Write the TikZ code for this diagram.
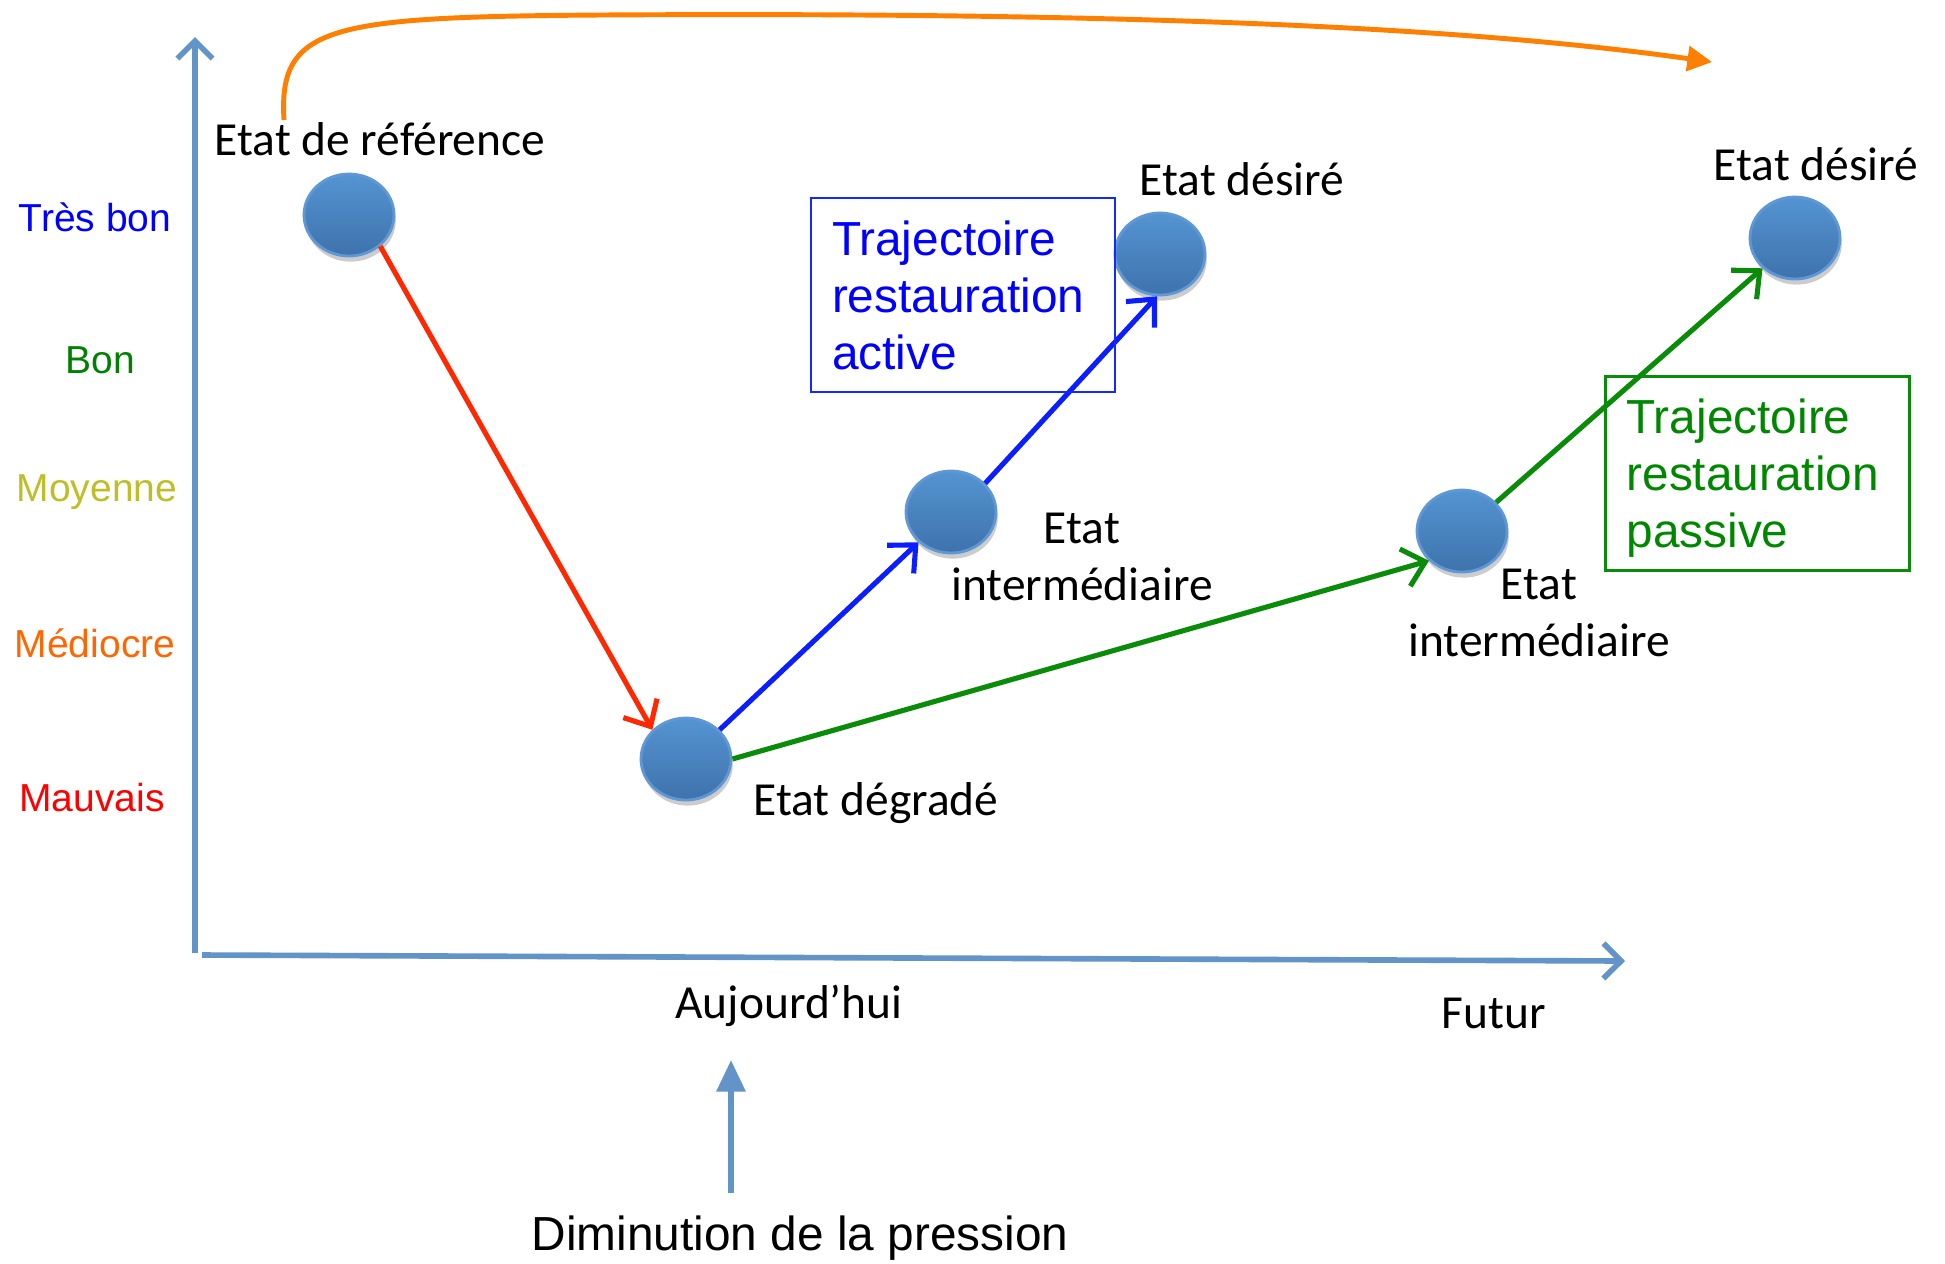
\documentclass[tikz,border=0pt]{standalone}
\usepackage{fontspec}
\setmainfont{Carlito}
\newfontfamily\arialfont{Liberation Sans}
\usetikzlibrary{arrows.meta,shapes.geometric,shadows}

\definecolor{axebleu}{RGB}{98,148,200}
\definecolor{etathaut}{RGB}{84,148,210}
\definecolor{etatbas}{RGB}{62,115,172}
\definecolor{etatbord}{RGB}{95,152,212}
\definecolor{flrouge}{RGB}{255,40,0}
\definecolor{flbleu}{RGB}{10,30,255}
\definecolor{flvert}{RGB}{10,140,10}
\definecolor{florange}{RGB}{255,128,0}
\definecolor{nivbleu}{RGB}{0,0,255}
\definecolor{nivvert}{RGB}{0,128,0}
\definecolor{nivolive}{RGB}{190,190,40}
\definecolor{nivorange}{RGB}{255,102,0}
\definecolor{nivrouge}{RGB}{255,0,0}

\tikzset{
  etat/.style={ellipse, minimum width=0.9cm, minimum height=0.82cm, inner sep=0pt,
    draw=etatbord, line width=0.8pt, top color=etathaut, bottom color=etatbas,
    drop shadow={shadow xshift=0.5pt, shadow yshift=-1.6pt, opacity=0.2, fill=black}},
  etiq/.style={font=\fontsize{13.5}{16.2}\selectfont, inner sep=0pt, anchor=base},
  niveau/.style={font=\arialfont\fontsize{11.1}{13}\selectfont, inner sep=0pt, anchor=base},
  trajfl/.style={line width=1.45pt, -{Straight Barb[length=6pt,width=11pt,line width=1.45pt]}},
  cadre/.style={draw, line width=0.8pt, align=left, text width=2.62cm, inner xsep=0.21cm,
    minimum height=1.94cm, font=\arialfont\fontsize{13.6}{16.2}\selectfont},
  axe/.style={draw=axebleu, line width=1.6pt, -{Straight Barb[length=5pt,width=10pt,line width=1.6pt]}}
}

\begin{document}
\begin{tikzpicture}
			%%%%% START %%%%%
			\useasboundingbox (0,0) rectangle (19.45,-12.63);
			
			% axes
			\coordinate (yorig) at (1.95,-9.53);
			\coordinate (ytop) at (1.95,-0.37);
			\coordinate (xorig) at (2.02,-9.55);
			\coordinate (xend) at (16.25,-9.61);
			\draw[axe] (yorig) -- (ytop);
			\draw[axe] (xorig) -- (xend);
			
			% niveaux
			\node[niveau, text=nivbleu] (tresbon) at (0.95,-2.31) {Très bon};
			\node[niveau, text=nivvert] (bon) at (1.00,-3.73) {Bon};
			\node[niveau, text=nivolive] (moyenne) at (0.97,-5.01) {Moyenne};
			\node[niveau, text=nivorange] (mediocre) at (0.95,-6.57) {Médiocre};
			\node[niveau, text=nivrouge] (mauvais) at (0.92,-8.11) {Mauvais};
			
			% etats
			\node[etat] (ref) at (3.49,-2.15) {};
			\node[etat] (degr) at (6.86,-7.59) {};
			\node[etat] (int1) at (9.51,-5.12) {};
			\node[etat] (des1) at (11.60,-2.54) {};
			\node[etat] (int2) at (14.62,-5.31) {};
			\node[etat] (des2) at (17.95,-2.38) {};
			
			\node[etiq] (lref) at (3.80,-1.55) {Etat de référence};
			\node[etiq] (ldes1) at (12.42,-1.95) {Etat désiré};
			\node[etiq] (ldes2) at (18.16,-1.80) {Etat désiré};
			\node[etiq, align=center] (lint1) at (10.82,-6.00) {Etat\\intermédiaire};
			\node[etiq, align=center] (lint2) at (15.39,-6.56) {Etat\\intermédiaire};
			\node[etiq] (ldegr) at (8.76,-8.15) {Etat dégradé};
			\node[etiq] (auj) at (7.89,-10.18) {Aujourd’hui};
			\node[etiq] (futur) at (14.94,-10.28) {Futur};
			
			% trajectoires
			\draw[trajfl, flrouge] (ref.315) -- (degr.139);
			\draw[trajfl, flbleu] (degr.41) -- (int1.223);
			\draw[trajfl, flbleu] (int1.40) -- (des1.266);
			\draw[trajfl, flvert] (degr.0) -- (int2.222);
			\draw[trajfl, flvert] (int2.40) -- (des2.223);
			
			\node[cadre, draw={rgb,255:red,20;green,40;blue,255}, text=nivbleu] (active) at (9.63,-2.95)
			  {Trajectoire\\restauration\\active};
			\node[cadre, draw={rgb,255:red,10;green,140;blue,10}, text={rgb,255:red,0;green,135;blue,0}] (passive) at (17.575,-4.735)
			  {Trajectoire\\restauration\\\smash{passive}};
			
			% retour vers l'etat de reference
			\coordinate (odeb) at (2.84,-1.20);
			\coordinate (ofin) at (17.12,-0.62);
			\draw[florange, line width=1.4pt, -{Triangle[length=7pt,width=7pt]}]
			  (odeb) .. controls (2.78,-0.25) and (3.3,-0.17) .. (6.0,-0.15)
			  .. controls (11.0,-0.12) and (14.5,-0.25) .. (ofin);
			
			% pression
			\coordinate (pbas) at (7.31,-11.93);
			\coordinate (phaut) at (7.31,-10.60);
			\draw[axebleu, line width=1.7pt, -{Triangle[length=9pt,width=8pt]}] (pbas) -- (phaut);
			\node[font=\arialfont\fontsize{13.6}{16}\selectfont, inner sep=0pt, anchor=base] (pression) at (8.00,-12.50) {Diminution de la pression};
			
			%%%%% END %%%%%
\end{tikzpicture}
\end{document}
